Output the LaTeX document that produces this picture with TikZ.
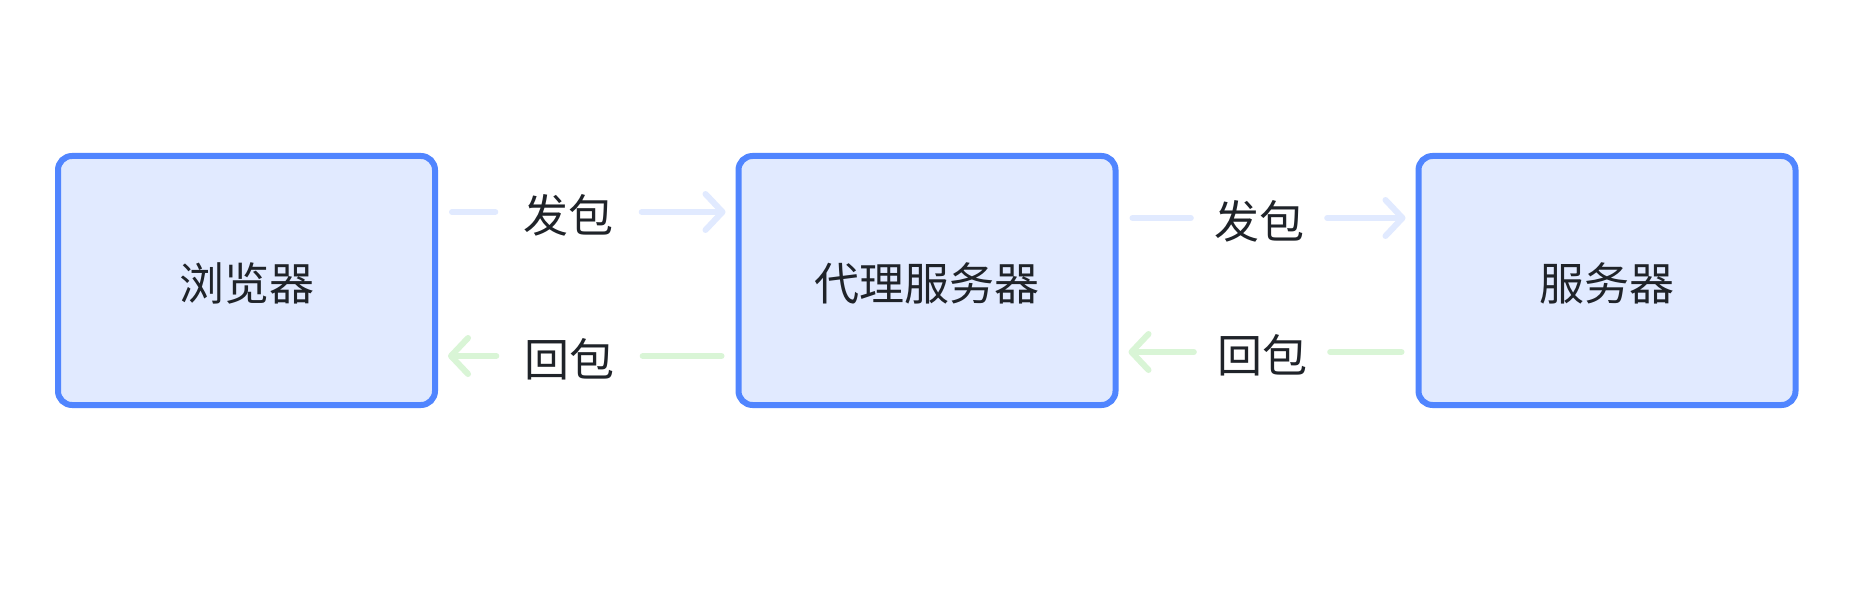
\documentclass[tikz,border=0pt]{standalone}
\usepackage{fontspec}
\setmainfont{Noto Sans CJK SC}
\usetikzlibrary{arrows.meta}
\definecolor{boxborder}{HTML}{5085FF}
\definecolor{boxfill}{HTML}{E1EAFF}
\definecolor{sendcol}{HTML}{E1EAFF}
\definecolor{backcol}{HTML}{D9F5D6}
\definecolor{txt}{HTML}{1F2329}
\newcommand{\dn}[1]{\raisebox{-3pt}[\height][\depth]{#1}}
\begin{document}
\begin{tikzpicture}[x=1pt,y=-1pt,
  box/.style={draw=boxborder,fill=boxfill,line width=6pt,rounded corners=14pt,
    minimum width=377pt,minimum height=249pt,inner sep=0pt,font=\fontsize{45}{50}\selectfont,text=txt},
  lbl/.style={font=\fontsize{45}{50}\selectfont,text=txt,inner ysep=4pt},
  lblL/.style={lbl,inner xsep=28pt},
  lblR/.style={lbl,inner xsep=23pt},
  conn/.style={line width=6pt,line cap=round,line join=round},
  sendln/.style={conn,draw=sendcol},
  backln/.style={conn,draw=backcol},
  tip/.style={-{Straight Barb[length=17pt,width=36pt,round]}}
]
\useasboundingbox[fill=white] (0,0) rectangle (1860,596);

\node[box] (b1) at (246.5,280.5) {\dn{浏览器}};
\node[box] (b2) at (927,280.5) {\dn{代理服务器}};
\node[box] (b3) at (1607,280.5) {\dn{服务器}};

% left pair
\node[lblL] (s1) at (568.5,212) {\dn{发包}};
\node[lblL] (r1) at (569.5,356) {\dn{回包}};
% right pair
\node[lblR] (s2) at (1259,218) {\dn{发包}};
\node[lblR] (r2) at (1262,352) {\dn{回包}};

\draw[sendln] ([xshift=14pt]b1.east |- s1) -- (s1.west |- s1);
\draw[sendln,tip] (s1.east |- s1) -- ([xshift=-10pt]b2.west |- s1);
\draw[backln] ([xshift=-14pt]b2.west |- r1) -- (r1.east |- r1);
\draw[backln,tip] (r1.west |- r1) -- ([xshift=10pt]b1.east |- r1);

\draw[sendln] ([xshift=14pt]b2.east |- s2) -- (s2.west |- s2);
\draw[sendln,tip] (s2.east |- s2) -- ([xshift=-10pt]b3.west |- s2);
\draw[backln] ([xshift=-14pt]b3.west |- r2) -- (r2.east |- r2);
\draw[backln,tip] (r2.west |- r2) -- ([xshift=10pt]b2.east |- r2);
\end{tikzpicture}
\end{document}
